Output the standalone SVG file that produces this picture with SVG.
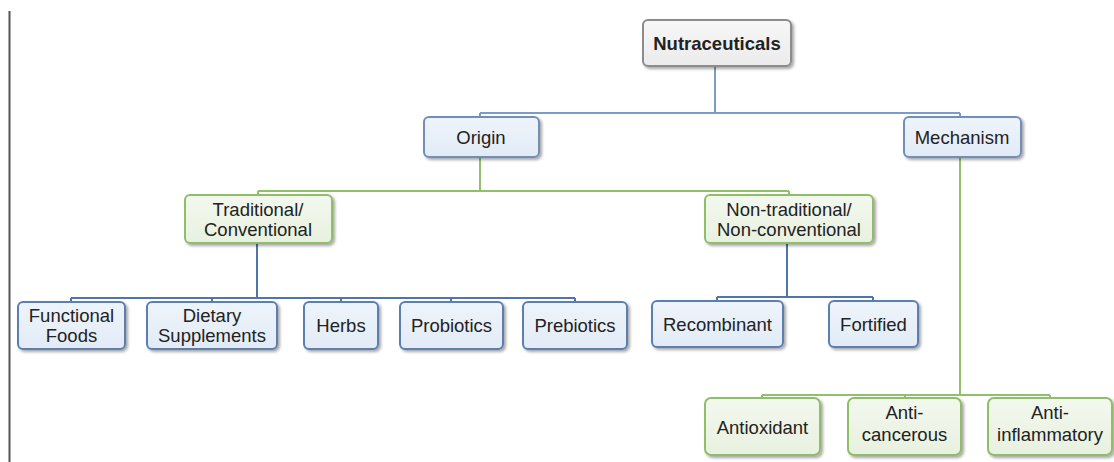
<svg xmlns="http://www.w3.org/2000/svg" width="1114" height="462" viewBox="0 0 1114 462">
<defs>
  <filter id="sh" x="-10%" y="-20%" width="125%" height="150%">
    <feGaussianBlur in="SourceAlpha" stdDeviation="1.5"/>
    <feOffset dx="1.5" dy="2" result="b"/>
    <feComponentTransfer><feFuncA type="linear" slope="0.35"/></feComponentTransfer>
    <feMerge><feMergeNode/><feMergeNode in="SourceGraphic"/></feMerge>
  </filter>
  <linearGradient id="gBlue" x1="0" y1="0" x2="0" y2="1">
    <stop offset="0" stop-color="#eef4fb"/>
    <stop offset="1" stop-color="#e2ebf6"/>
  </linearGradient>
  <linearGradient id="gGreen" x1="0" y1="0" x2="0" y2="1">
    <stop offset="0" stop-color="#f3f8ee"/>
    <stop offset="1" stop-color="#e8f1e0"/>
  </linearGradient>
  <linearGradient id="gGray" x1="0" y1="0" x2="0" y2="1">
    <stop offset="0" stop-color="#f7f7f7"/>
    <stop offset="1" stop-color="#ebebeb"/>
  </linearGradient>
</defs>
<style>
  .box { stroke-width: 2; filter: url(#sh); }
  .blue { fill: url(#gBlue); stroke: #6f8fba; }
  .blue2 { fill: url(#gBlue); stroke: #5b7fb2; }
  .green { fill: url(#gGreen); stroke: #8fbd68; }
  .gray { fill: url(#gGray); stroke: #8c8c8c; }
  text { font-family: "Liberation Sans", Arial, Helvetica, sans-serif; font-size: 18.5px; fill: #222; text-anchor: middle; }
  .bold { font-weight: bold; }
  .cb { fill: none; stroke: #7c9cc6; stroke-width: 2; }
  .cd { fill: none; stroke: #4f75aa; stroke-width: 2; }
  .cg { fill: none; stroke: #92c06a; stroke-width: 2; }
</style>
<rect width="1114" height="462" fill="#ffffff"/>
<line x1="9.5" y1="11" x2="9.5" y2="462" stroke="#555" stroke-width="2"/>

<g id="connectors">
  <path class="cb" d="M715 66 V113 M480 113 H960 M480 113 V117 M960 113 V117"/>
  <path class="cg" d="M480 157 V191 M258 191 H789 M258 191 V195 M789 191 V195"/>
  <path class="cd" d="M257 243 V298 M71 298 H575 M71 298 V302 M212 298 V302 M341 298 V302 M451 298 V302 M575 298 V302"/>
  <path class="cd" d="M787 243 V297 M717 297 H873 M717 297 V301 M873 297 V301"/>
  <path class="cg" d="M960 157 V395 M762 395 H1050 M762 395 V398 M905 395 V398 M1050 395 V398"/>
</g>

<g id="n-nutraceuticals">
  <rect class="box gray" x="643" y="20" width="148" height="46" rx="5"/>
  <text class="bold" x="717" y="50">Nutraceuticals</text>
</g>
<g id="n-origin">
  <rect class="box blue" x="424" y="117" width="115" height="40" rx="5"/>
  <text x="481" y="143.5">Origin</text>
</g>
<g id="n-mechanism">
  <rect class="box blue" x="904" y="117" width="117" height="40" rx="5"/>
  <text x="962" y="143.5">Mechanism</text>
</g>
<g id="n-traditional">
  <rect class="box green" x="185" y="195" width="147" height="48" rx="5"/>
  <text x="258" y="215.5">Traditional/</text>
  <text x="258" y="235.5">Conventional</text>
</g>
<g id="n-nontraditional">
  <rect class="box green" x="705" y="195" width="168" height="48" rx="5"/>
  <text x="789" y="215.5">Non-traditional/</text>
  <text x="789" y="235.5">Non-conventional</text>
</g>
<g id="n-functional">
  <rect class="box blue2" x="18" y="302" width="107" height="47" rx="5"/>
  <text x="71.5" y="321.5">Functional</text>
  <text x="71.5" y="341.5">Foods</text>
</g>
<g id="n-dietary">
  <rect class="box blue2" x="147" y="302" width="130" height="47" rx="5"/>
  <text x="212" y="321.5">Dietary</text>
  <text x="212" y="341.5">Supplements</text>
</g>
<g id="n-herbs">
  <rect class="box blue2" x="304" y="302" width="74" height="47" rx="5"/>
  <text x="341" y="332">Herbs</text>
</g>
<g id="n-probiotics">
  <rect class="box blue2" x="400" y="302" width="103" height="47" rx="5"/>
  <text x="451.5" y="332">Probiotics</text>
</g>
<g id="n-prebiotics">
  <rect class="box blue2" x="523" y="302" width="104" height="47" rx="5"/>
  <text x="575" y="332">Prebiotics</text>
</g>
<g id="n-recombinant">
  <rect class="box blue2" x="652" y="301" width="131" height="46" rx="5"/>
  <text x="717.5" y="331">Recombinant</text>
</g>
<g id="n-fortified">
  <rect class="box blue2" x="829" y="301" width="89" height="46" rx="5"/>
  <text x="873.5" y="331">Fortified</text>
</g>
<g id="n-antioxidant">
  <rect class="box green" x="705" y="398" width="115" height="57" rx="6"/>
  <text x="762.5" y="434">Antioxidant</text>
</g>
<g id="n-anticancerous">
  <rect class="box green" x="848" y="398" width="113" height="57" rx="6"/>
  <text x="904.5" y="418.5">Anti-</text>
  <text x="904.5" y="440.5">cancerous</text>
</g>
<g id="n-antiinflammatory">
  <rect class="box green" x="988" y="398" width="124" height="57" rx="6"/>
  <text x="1050" y="418.5">Anti-</text>
  <text x="1050" y="440.5">inflammatory</text>
</g>
</svg>
